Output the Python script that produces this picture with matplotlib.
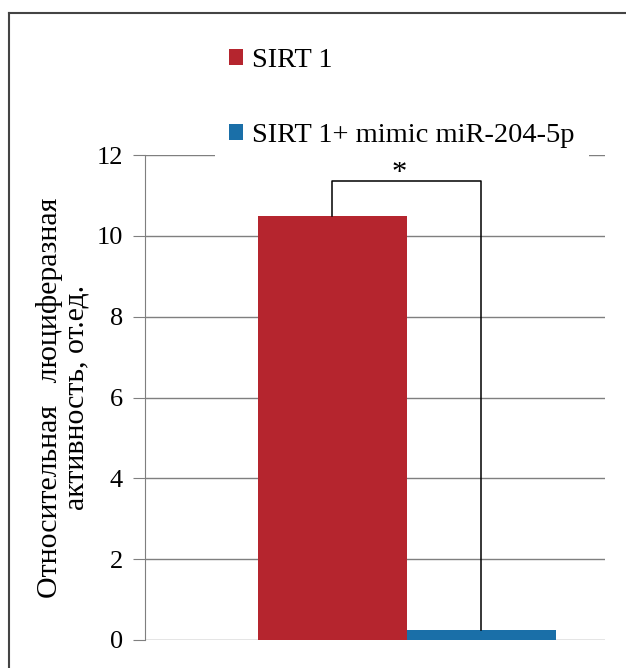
import matplotlib.pyplot as plt
from matplotlib.patches import Patch
from matplotlib.lines import Line2D

labels = ["SIRT 1", "SIRT 1+ mimic miR-204-5p"]
values = [10.5, 0.25]
colors = ["#b5252e", "#1a6fa8"]
bracket_top = 11.35
yticks = [0, 2, 4, 6, 8, 10, 12]
ylabel = "Относительная   люциферазная\nактивность, от.ед."

plt.rcParams['font.family'] = ['Liberation Serif', 'DejaVu Serif']

W, H = 626, 668
fig = plt.figure(figsize=(W / 100, H / 100), dpi=100)

# axes box in pixels: x 145..605, y 155..640
ax = fig.add_axes([145 / W, 1 - 640 / H, (605 - 145) / W, (640 - 155) / H])

xpos = [0, 1]
ax.bar(xpos, values, width=1.0, color=colors, zorder=3)

# significance bracket
ax.plot([0, 0, 1, 1], [values[0], bracket_top, bracket_top, values[1]],
        color="black", lw=1.1, zorder=4)
ax.text(0.45, bracket_top + 0.2, "*", ha="center", va="center", fontsize=22)

ax.set_xlim(-1.258, 1.829)
ax.set_ylim(0, 12)
ax.set_yticks(yticks)
ax.set_xticks([])
ax.yaxis.grid(True, color="#7f7f7f", lw=1.0, zorder=0)
ax.set_axisbelow(True)
for s in ["top", "right", "bottom"]:
    ax.spines[s].set_visible(False)
ax.spines["left"].set_color("#7f7f7f")
ax.tick_params(axis="y", length=9, color="#7f7f7f", labelsize=19, pad=7)
ax.set_ylabel(ylabel, fontsize=21.5, labelpad=5, linespacing=1.0)

# legend
handles = [Patch(facecolor=c, edgecolor="none") for c in colors]
leg = fig.legend(handles, labels, loc="upper left",
                 bbox_to_anchor=(215 / W, 1 - 34 / H),
                 fontsize=20.5, frameon=True, facecolor="white",
                 edgecolor="none", framealpha=1, labelspacing=1.75,
                 handlelength=0.5, handleheight=0.5, handletextpad=0.3,
                 borderpad=0.5, borderaxespad=0)
leg.set_zorder(5)

# outer frame (left and top edges visible)
fig.add_artist(Line2D([9 / W, 9 / W], [0, 1 - 13 / H], color="#444444",
                      lw=1.5, transform=fig.transFigure))
fig.add_artist(Line2D([9 / W, 1], [1 - 13 / H, 1 - 13 / H], color="#444444",
                      lw=1.5, transform=fig.transFigure))

fig.savefig("out.png", dpi=100)
